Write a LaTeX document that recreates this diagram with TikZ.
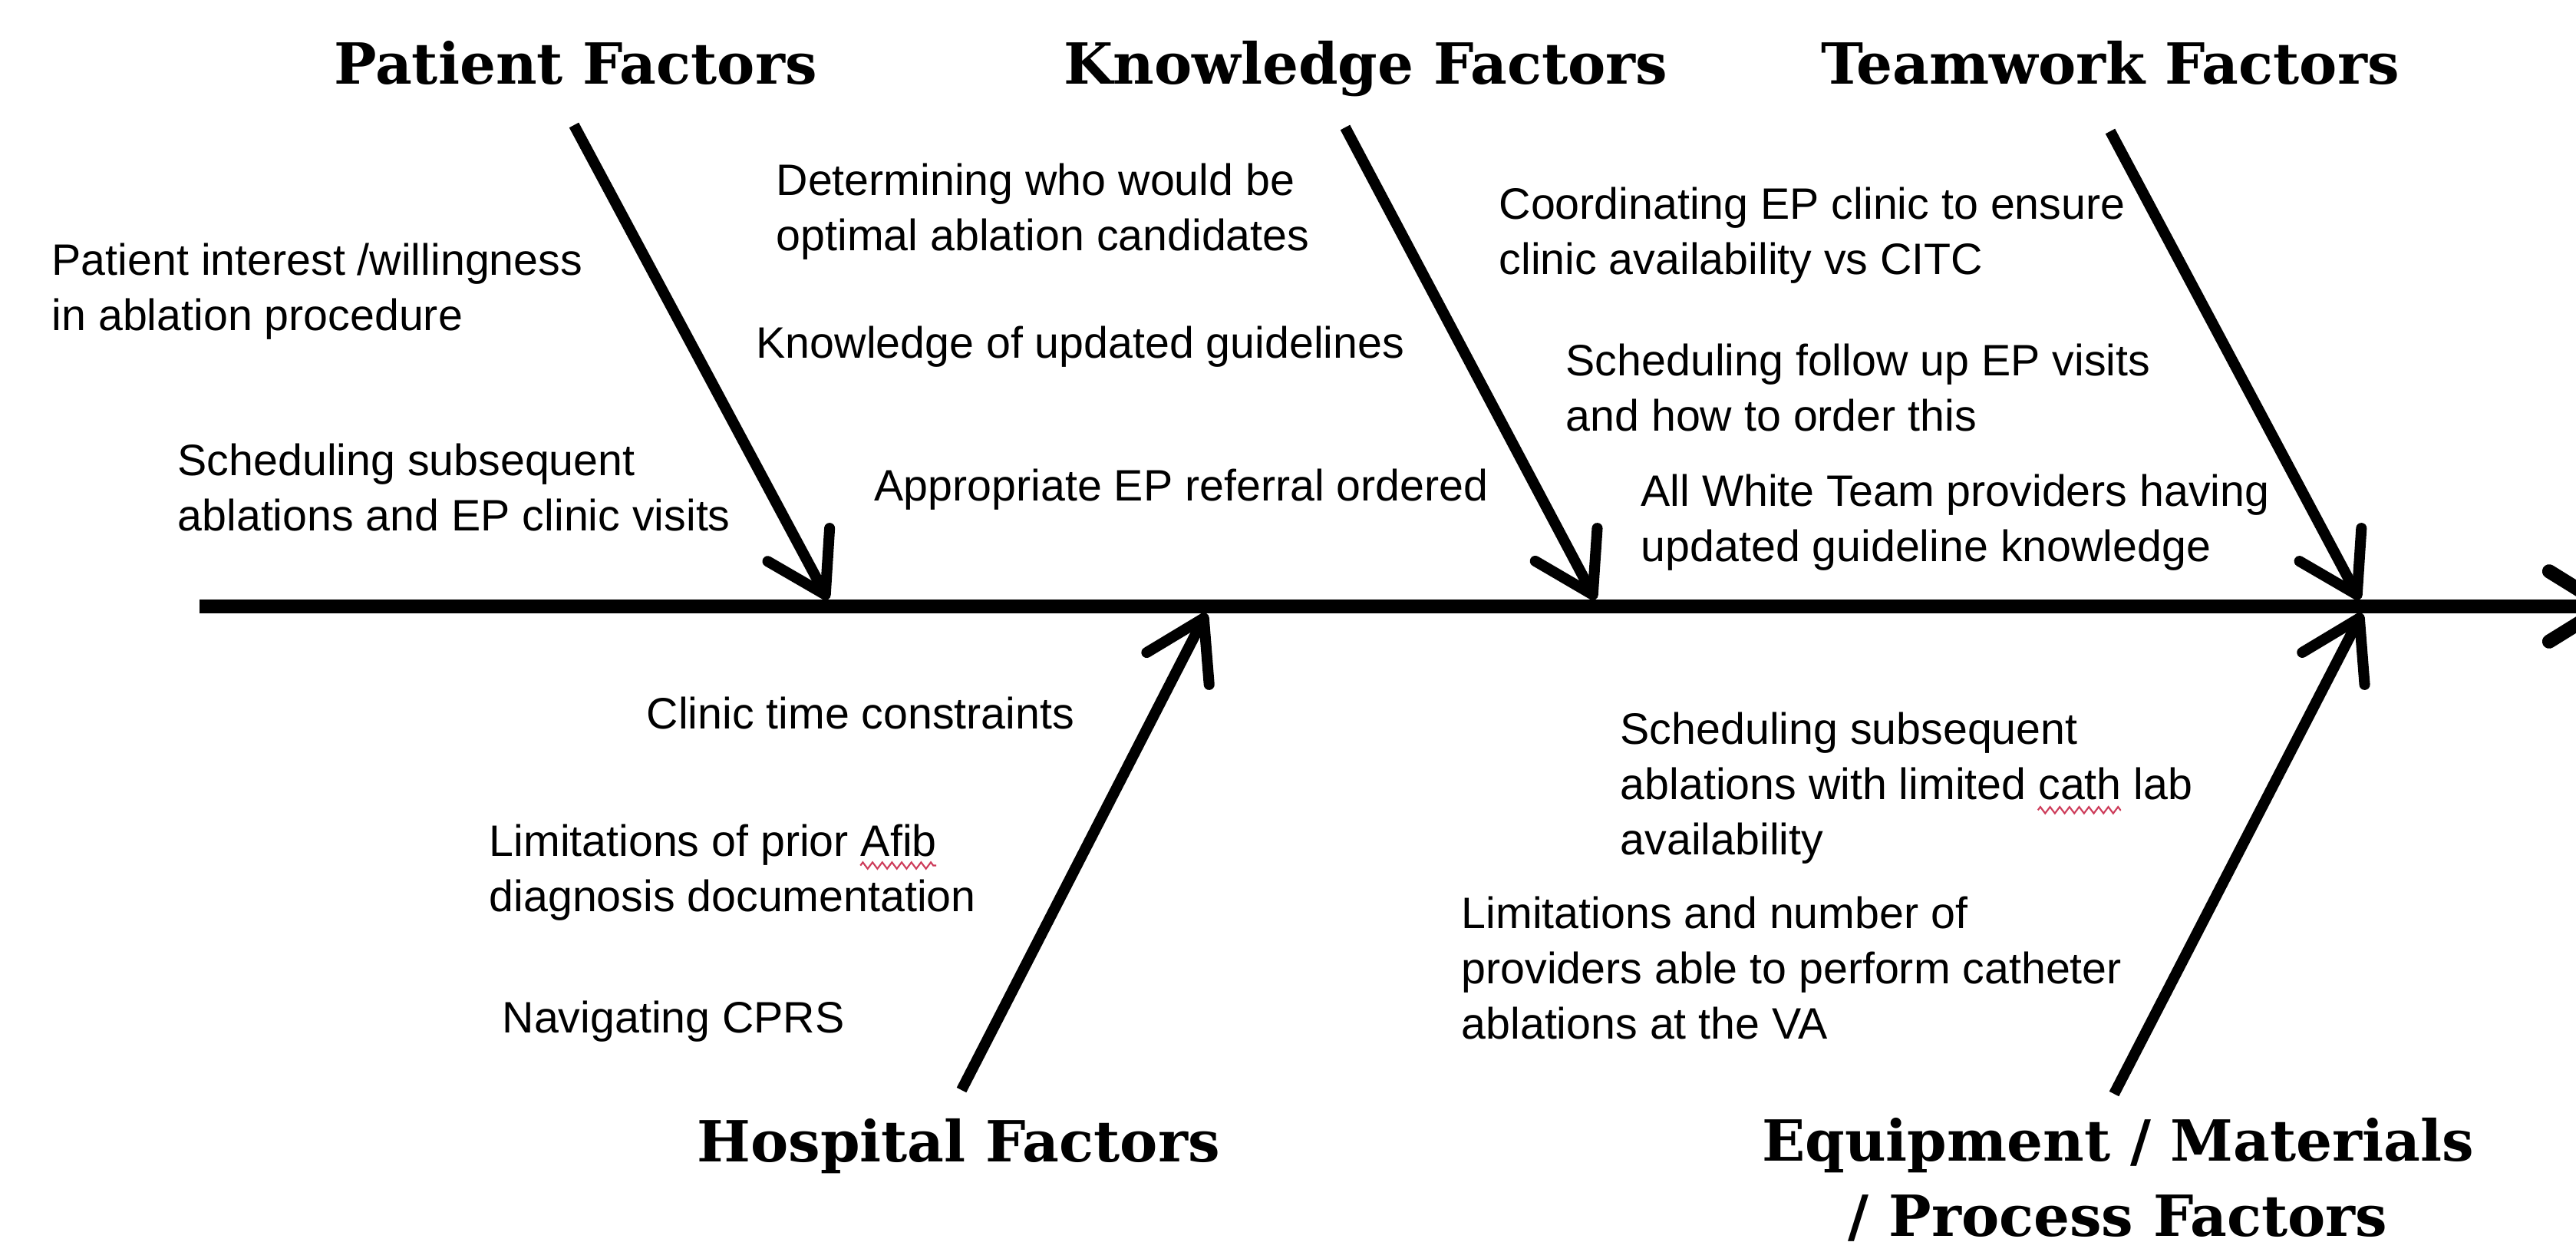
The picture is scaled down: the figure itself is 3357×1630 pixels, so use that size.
\documentclass[tikz,border=0pt]{standalone}
\usepackage{fontspec}
\usepackage{tikz}
\usetikzlibrary{arrows.meta,calc,decorations.pathmorphing}
\newfontfamily\labelfont{Liberation Sans}
\newfontfamily\headfont{DejaVu Serif}
\definecolor{squigred}{RGB}{205,60,90}

\begin{document}
\begin{tikzpicture}[x=0.01cm, y=-0.01cm, >={Straight Barb[length=21pt, width=26pt, round]},
    bone/.style={line width=4pt},
    spine/.style={line width=5.2pt},
    head/.style={font=\headfont\bfseries\fontsize{21}{27.9}\selectfont, align=center, inner sep=0pt},
    cause/.style={font=\labelfont\fontsize{16.3}{20.5}\selectfont, align=left, anchor=north west, inner sep=0pt},
    squig/.style={draw=squigred, line width=0.6pt, decorate, decoration={zigzag, amplitude=1.2pt, segment length=3.6pt}}]
        \path[use as bounding box, fill=white] (0,0) rectangle (3357,1630);
        \node[head, anchor=base] (pf) at (750,110) {Patient Factors};
        \node[head, anchor=base] (kf) at (1780,110) {Knowledge Factors};
        \node[head, anchor=base] (tf) at (2750,110) {Teamwork Factors};
        \node[head, anchor=base] (hf) at (1249,1513) {Hospital Factors};
        \node[head, anchor=north] (ef) at (2760,1456) {Equipment / Materials\\/ Process Factors};
        \coordinate (tail) at (260,790);
        \coordinate (head) at (3405,790);
        \coordinate (pf-tail) at (748,163);   \coordinate (pf-tip) at (1079,781);
        \coordinate (kf-tail) at (1753,166);  \coordinate (kf-tip) at (2079,781);
        \coordinate (tf-tail) at (2750,171);  \coordinate (tf-tip) at (3075,781);
        \coordinate (hf-tail) at (1253,1420); \coordinate (hf-tip) at (1572,799);
        \coordinate (ef-tail) at (2755,1425); \coordinate (ef-tip) at (3078,799);
        \draw[spine, ->] (tail) -- (head);
        \draw[bone, ->] (pf-tail) -- (pf-tip);
        \draw[bone, ->] (kf-tail) -- (kf-tip);
        \draw[bone, ->] (tf-tail) -- (tf-tip);
        \draw[bone, ->] (hf-tail) -- (hf-tip);
        \draw[bone, ->] (ef-tail) -- (ef-tip);
        % causes
        \node[cause] (pf1) at (67,316) {Patient interest /willingness\\in ablation procedure};
        \node[cause] (pf2) at (231,577) {Scheduling subsequent\\ablations and EP clinic visits};
        \node[cause] (kf1) at (1011,212) {Determining who would be\\optimal ablation candidates};
        \node[cause] (kf2) at (985,424) {Knowledge of updated guidelines};
        \node[cause] (kf3) at (1139,610) {Appropriate EP referral ordered};
        \node[cause] (tf1) at (1953,243) {Coordinating EP clinic to ensure\\clinic availability vs CITC};
        \node[cause] (tf2) at (2040,447) {Scheduling follow up EP visits\\and how to order this};
        \node[cause] (tf3) at (2138,617) {All White Team providers having\\updated guideline knowledge};
        \node[cause] (hf1) at (842,907) {Clinic time constraints};
        \node[cause] (hf2) at (637,1073) {Limitations of prior Afib\\diagnosis documentation};
        \node[cause] (hf3) at (654,1303) {Navigating CPRS};
        \node[cause] (ef1) at (2111,927) {Scheduling subsequent\\ablations with limited cath lab\\availability};
        \node[cause] (ef2) at (1904,1167) {Limitations and number of\\providers able to perform catheter\\ablations at the VA};
        \draw[squig] ($(hf2.north west)+(137.7pt,-15.5pt)$) -- ++(28.1pt,0);
        \draw[squig] ($(ef1.north west)+(154.9pt,-36.5pt)$) -- ++(30.8pt,0);
\end{tikzpicture}
\end{document}
